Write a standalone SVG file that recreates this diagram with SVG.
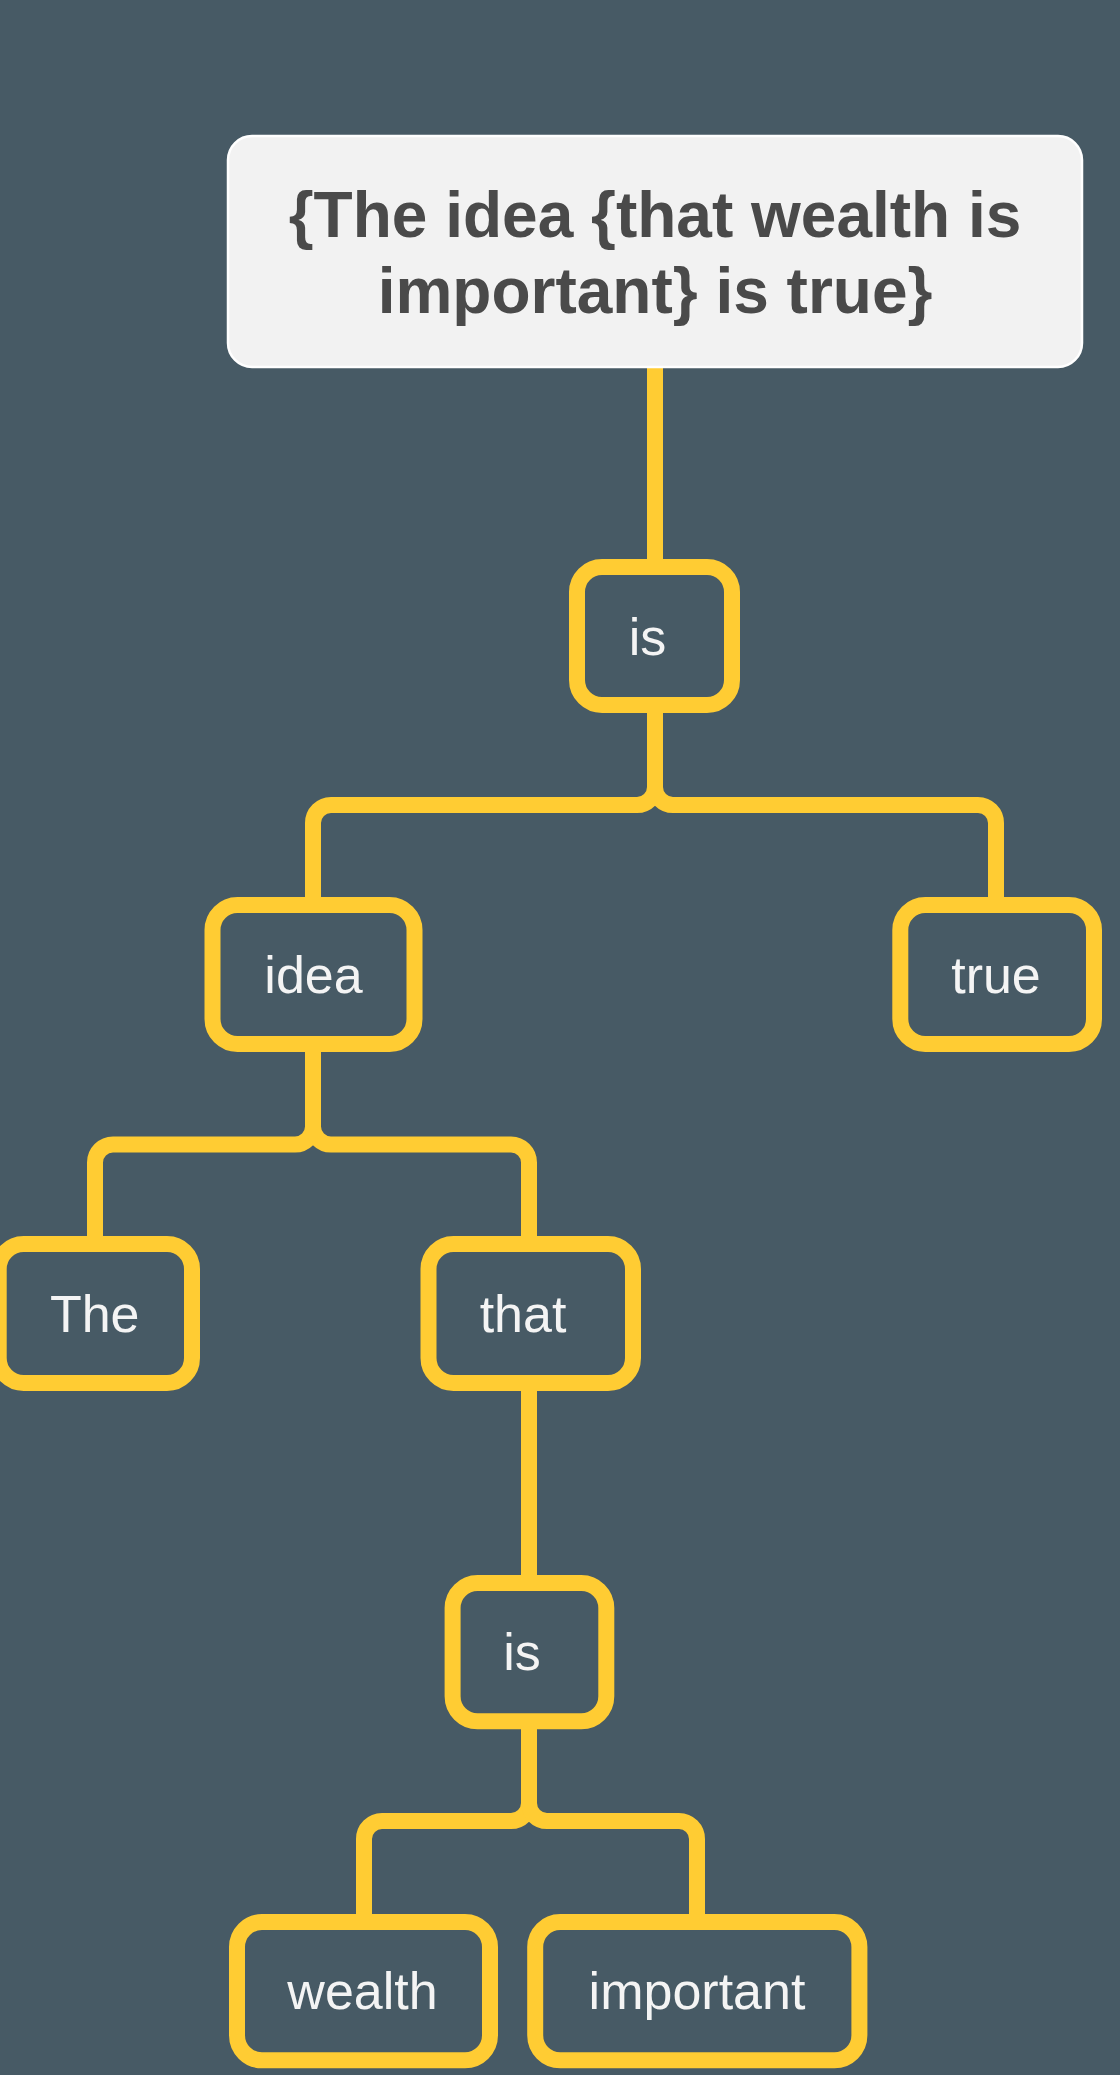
<svg xmlns="http://www.w3.org/2000/svg" width="1120" height="2075" viewBox="0 0 1120 2075">
  <style>
    .conn { fill: none; stroke: #ffcc33; stroke-width: 16; }
    .box { fill: #475a65; stroke: #ffcc33; stroke-width: 16; }
    .lbl { font-family: "Liberation Sans", Arial, Helvetica, sans-serif; font-size: 52px; fill: #f4f4f4; text-anchor: middle; }
    .root-box { fill: #f2f2f2; stroke: #ffffff; stroke-width: 2.5; }
    .root-lbl { font-family: "Liberation Sans", Arial, Helvetica, sans-serif; font-size: 64px; font-weight: bold; fill: #4a4a4a; text-anchor: middle; }
  </style>
  <rect x="0" y="0" width="1120" height="2075" fill="#475a65"/>
  <g id="connectors">
    <path class="conn" d="M655,367 V567"/>
    <path class="conn" d="M655,705 V787 A18,18 0 0 1 637,805 H331 A18,18 0 0 0 313,823 V905"/>
    <path class="conn" d="M655,705 V787 A18,18 0 0 0 673,805 H978 A18,18 0 0 1 996,823 V905"/>
    <path class="conn" d="M313,1044 V1126.5 A18,18 0 0 1 295,1144.5 H113 A18,18 0 0 0 95,1162.5 V1244"/>
    <path class="conn" d="M313,1044 V1126.5 A18,18 0 0 0 331,1144.5 H511 A18,18 0 0 1 529,1162.5 V1244"/>
    <path class="conn" d="M529,1383 V1583"/>
    <path class="conn" d="M529,1721 V1803 A18,18 0 0 1 511,1821 H382 A18,18 0 0 0 364,1839 V1922"/>
    <path class="conn" d="M529,1721 V1803 A18,18 0 0 0 547,1821 H679 A18,18 0 0 1 697,1839 V1922"/>
  </g>
  <g id="node-root">
    <rect class="root-box" x="228" y="136" width="854" height="231" rx="24" ry="24"/>
    <text class="root-lbl" x="655" y="237">{The idea {that wealth is</text>
    <text class="root-lbl" x="655" y="313">important} is true}</text>
  </g>
  <g id="node-is1">
    <rect class="box" x="577" y="567" width="155" height="138" rx="25" ry="25"/>
    <text class="lbl" x="647.5" y="655">is</text>
  </g>
  <g id="node-idea">
    <rect class="box" x="212.5" y="905" width="202" height="139" rx="25" ry="25"/>
    <text class="lbl" x="313.5" y="993">idea</text>
  </g>
  <g id="node-true">
    <rect class="box" x="900.3" y="905" width="193.7" height="139" rx="25" ry="25"/>
    <text class="lbl" x="996" y="993">true</text>
  </g>
  <g id="node-the">
    <rect class="box" x="-1.3" y="1244" width="193.3" height="139" rx="25" ry="25"/>
    <text class="lbl" x="94.7" y="1332">The</text>
  </g>
  <g id="node-that">
    <rect class="box" x="428.5" y="1244" width="204.5" height="139" rx="25" ry="25"/>
    <text class="lbl" x="523" y="1332">that</text>
  </g>
  <g id="node-is2">
    <rect class="box" x="452.6" y="1583" width="153.7" height="138.3" rx="25" ry="25"/>
    <text class="lbl" x="522" y="1670">is</text>
  </g>
  <g id="node-wealth">
    <rect class="box" x="237" y="1922" width="253" height="138.3" rx="25" ry="25"/>
    <text class="lbl" x="362.5" y="2009">wealth</text>
  </g>
  <g id="node-important">
    <rect class="box" x="535.2" y="1922" width="324.2" height="138.3" rx="25" ry="25"/>
    <text class="lbl" x="697" y="2009">important</text>
  </g>
</svg>
